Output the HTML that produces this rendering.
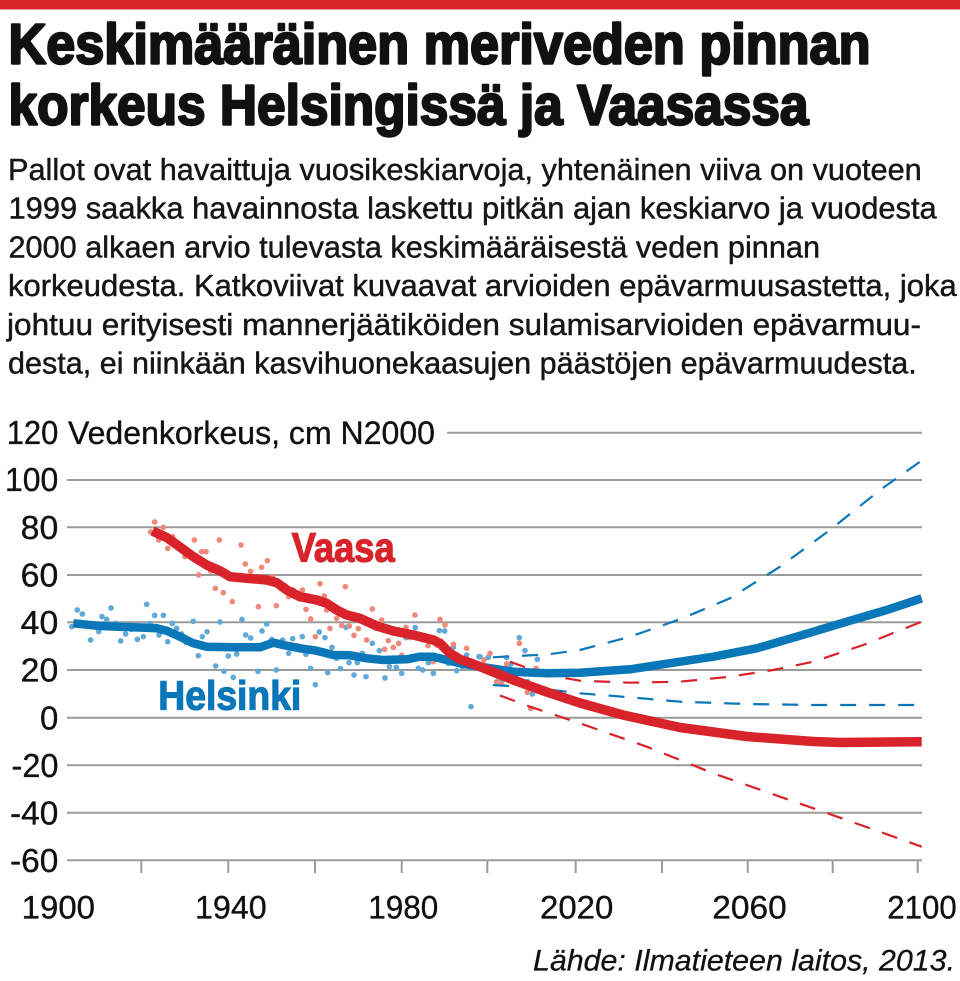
<!DOCTYPE html>
<html><head><meta charset="utf-8">
<style>
html,body{margin:0;padding:0;background:#fff;}
svg{display:block;}
text{font-family:"Liberation Sans",sans-serif;}
</style></head>
<body>
<svg width="960" height="981" viewBox="0 0 960 981" xmlns="http://www.w3.org/2000/svg">
<rect x="0" y="0" width="960" height="981" fill="#fff"/>
<rect x="0" y="0" width="960" height="9.5" fill="#d9232b"/>

<!-- Title -->
<g font-weight="bold" font-size="57" fill="#111" stroke="#111" stroke-width="2.4" stroke-linejoin="round">
<text x="8.5" y="63.3" textLength="862" lengthAdjust="spacingAndGlyphs">Keskimääräinen meriveden pinnan</text>
<text x="8.5" y="124.5" textLength="800" lengthAdjust="spacingAndGlyphs">korkeus Helsingissä ja Vaasassa</text>
</g>

<!-- Description -->
<g font-size="30.5" fill="#161616" stroke="#161616" stroke-width="0.45">
<text x="8" y="180" textLength="913.7" lengthAdjust="spacingAndGlyphs">Pallot ovat havaittuja vuosikeskiarvoja, yhtenäinen viiva on vuoteen</text>
<text x="8.5" y="218.7" textLength="928.2" lengthAdjust="spacingAndGlyphs">1999 saakka havainnosta laskettu pitkän ajan keskiarvo ja vuodesta</text>
<text x="8.5" y="257.4" textLength="811.5" lengthAdjust="spacingAndGlyphs">2000 alkaen arvio tulevasta keskimääräisestä veden pinnan</text>
<text x="8" y="296.1" textLength="948.7" lengthAdjust="spacingAndGlyphs">korkeudesta. Katkoviivat kuvaavat arvioiden epävarmuusastetta, joka</text>
<text x="7" y="334.8" textLength="914" lengthAdjust="spacingAndGlyphs">johtuu erityisesti mannerjäätiköiden sulamisarvioiden epävarmuu-</text>
<text x="8" y="373.5" textLength="908.7" lengthAdjust="spacingAndGlyphs">desta, ei niinkään kasvihuonekaasujen päästöjen epävarmuudesta.</text>
</g>

<!-- Gridlines -->
<g stroke="#9b9b9b" stroke-width="2">
<line x1="447" y1="432.7" x2="922" y2="432.7"/>
<line x1="67" y1="480" x2="922" y2="480"/>
<line x1="67" y1="527.3" x2="922" y2="527.3"/>
<line x1="67" y1="575" x2="922" y2="575"/>
<line x1="67" y1="622.3" x2="922" y2="622.3"/>
<line x1="67" y1="670" x2="922" y2="670"/>
<line x1="67" y1="717.7" x2="922" y2="717.7"/>
<line x1="67" y1="765.3" x2="922" y2="765.3"/>
<line x1="67" y1="812.7" x2="922" y2="812.7"/>
<line x1="67" y1="860.3" x2="922" y2="860.3"/>
<line x1="141.3" y1="860" x2="141.3" y2="873"/>
<line x1="228.3" y1="860" x2="228.3" y2="873"/>
<line x1="315" y1="860" x2="315" y2="873"/>
<line x1="401.7" y1="860" x2="401.7" y2="873"/>
<line x1="487.3" y1="860" x2="487.3" y2="873"/>
<line x1="575.7" y1="860" x2="575.7" y2="873"/>
<line x1="662" y1="860" x2="662" y2="873"/>
<line x1="747.7" y1="860" x2="747.7" y2="873"/>
<line x1="832.7" y1="860" x2="832.7" y2="873"/>
<line x1="917.7" y1="860" x2="917.7" y2="873"/>
</g>

<!-- Y labels -->
<g font-size="33" fill="#111" stroke="#111" stroke-width="0.35">
<text x="6.7" y="444" textLength="51.6" lengthAdjust="spacingAndGlyphs">120</text>
<text x="68" y="444" font-size="32" textLength="367" lengthAdjust="spacingAndGlyphs">Vedenkorkeus, cm N2000</text>
<text x="5" y="491" textLength="53.3" lengthAdjust="spacingAndGlyphs">100</text>
<text x="20.7" y="539" textLength="37.6" lengthAdjust="spacingAndGlyphs">80</text>
<text x="20.7" y="586.5" textLength="37.6" lengthAdjust="spacingAndGlyphs">60</text>
<text x="20.7" y="634" textLength="37.6" lengthAdjust="spacingAndGlyphs">40</text>
<text x="20.7" y="681.5" textLength="37.6" lengthAdjust="spacingAndGlyphs">20</text>
<text x="40" y="729.5" textLength="18.3" lengthAdjust="spacingAndGlyphs">0</text>
<text x="11.5" y="777" textLength="47" lengthAdjust="spacingAndGlyphs">-20</text>
<text x="10" y="824.5" textLength="48.3" lengthAdjust="spacingAndGlyphs">-40</text>
<text x="10" y="872" textLength="48.3" lengthAdjust="spacingAndGlyphs">-60</text>
</g>

<!-- X labels -->
<g font-size="32" fill="#111" stroke="#111" stroke-width="0.35">
<text x="21.7" y="918.3" textLength="73.3" lengthAdjust="spacingAndGlyphs">1900</text>
<text x="195" y="918.3" textLength="71.7" lengthAdjust="spacingAndGlyphs">1940</text>
<text x="368.3" y="918.3" textLength="70" lengthAdjust="spacingAndGlyphs">1980</text>
<text x="540" y="918.3" textLength="73.3" lengthAdjust="spacingAndGlyphs">2020</text>
<text x="712.3" y="918.3" textLength="74.4" lengthAdjust="spacingAndGlyphs">2060</text>
<text x="887.3" y="918.3" textLength="69.4" lengthAdjust="spacingAndGlyphs">2100</text>
</g>

<!-- Source -->
<text x="533" y="970.7" font-size="30" font-style="italic" fill="#111" stroke="#111" stroke-width="0.3" textLength="422" lengthAdjust="spacingAndGlyphs">Lähde: Ilmatieteen laitos, 2013.</text>

<!-- Dots: Helsinki -->
<g transform="translate(0,410) scale(0.33333)" fill="#62a9d8">
<circle cx="215" cy="650" r="8.5"/><circle cx="232" cy="600" r="8.5"/><circle cx="247" cy="612" r="8.5"/><circle cx="255" cy="645" r="8.5"/><circle cx="272" cy="690" r="8.5"/><circle cx="283" cy="650" r="8.5"/><circle cx="296" cy="665" r="8.5"/><circle cx="306" cy="620" r="8.5"/><circle cx="320" cy="628" r="8.5"/><circle cx="333" cy="594" r="8.5"/><circle cx="348" cy="640" r="8.5"/><circle cx="362" cy="693" r="8.5"/><circle cx="377" cy="672" r="8.5"/><circle cx="395" cy="658" r="8.5"/><circle cx="412" cy="688" r="8.5"/><circle cx="430" cy="680" r="8.5"/><circle cx="440" cy="583" r="8.5"/><circle cx="450" cy="640" r="8.5"/><circle cx="464" cy="616" r="8.5"/><circle cx="477" cy="675" r="8.5"/><circle cx="490" cy="616" r="8.5"/><circle cx="503" cy="695" r="8.5"/><circle cx="517" cy="640" r="8.5"/><circle cx="530" cy="655" r="8.5"/><circle cx="545" cy="672" r="8.5"/><circle cx="558" cy="697" r="8.5"/><circle cx="580" cy="634" r="8.5"/><circle cx="595" cy="737" r="8.5"/><circle cx="600" cy="703" r="8.5"/><circle cx="607" cy="680" r="8.5"/><circle cx="621" cy="665" r="8.5"/><circle cx="631" cy="715" r="8.5"/><circle cx="647" cy="768" r="8.5"/><circle cx="660" cy="636" r="8.5"/><circle cx="672" cy="784" r="8.5"/><circle cx="685" cy="738" r="8.5"/><circle cx="700" cy="802" r="8.5"/><circle cx="710" cy="732" r="8.5"/><circle cx="726" cy="628" r="8.5"/><circle cx="737" cy="675" r="8.5"/><circle cx="752" cy="684" r="8.5"/><circle cx="762" cy="715" r="8.5"/><circle cx="774" cy="784" r="8.5"/><circle cx="786" cy="663" r="8.5"/><circle cx="800" cy="642" r="8.5"/><circle cx="815" cy="688" r="8.5"/><circle cx="829" cy="780" r="8.5"/><circle cx="848" cy="690" r="8.5"/><circle cx="866" cy="730" r="8.5"/><circle cx="878" cy="686" r="8.5"/><circle cx="890" cy="707" r="8.5"/><circle cx="907" cy="680" r="8.5"/><circle cx="918" cy="733" r="8.5"/><circle cx="932" cy="775" r="8.5"/><circle cx="946" cy="824" r="8.5"/><circle cx="958" cy="666" r="8.5"/><circle cx="975" cy="683" r="8.5"/><circle cx="983" cy="788" r="8.5"/><circle cx="996" cy="712" r="8.5"/><circle cx="1010" cy="745" r="8.5"/><circle cx="1021" cy="776" r="8.5"/><circle cx="1038" cy="652" r="8.5"/><circle cx="1047" cy="758" r="8.5"/><circle cx="1062" cy="795" r="8.5"/><circle cx="1072" cy="758" r="8.5"/><circle cx="1087" cy="730" r="8.5"/><circle cx="1098" cy="800" r="8.5"/><circle cx="1117" cy="700" r="8.5"/><circle cx="1129" cy="750" r="8.5"/><circle cx="1138" cy="722" r="8.5"/><circle cx="1155" cy="804" r="8.5"/><circle cx="1168" cy="770" r="8.5"/><circle cx="1189" cy="772" r="8.5"/><circle cx="1205" cy="790" r="8.5"/><circle cx="1218" cy="683" r="8.5"/><circle cx="1233" cy="745" r="8.5"/><circle cx="1246" cy="653" r="8.5"/><circle cx="1255" cy="775" r="8.5"/><circle cx="1268" cy="780" r="8.5"/><circle cx="1285" cy="758" r="8.5"/><circle cx="1300" cy="790" r="8.5"/><circle cx="1318" cy="662" r="8.5"/><circle cx="1334" cy="663" r="8.5"/><circle cx="1345" cy="760" r="8.5"/><circle cx="1360" cy="712" r="8.5"/><circle cx="1370" cy="782" r="8.5"/><circle cx="1387" cy="770" r="8.5"/><circle cx="1400" cy="735" r="8.5"/><circle cx="1413" cy="890" r="8.5"/><circle cx="1430" cy="765" r="8.5"/><circle cx="1437" cy="740" r="8.5"/>
</g>
<g transform="translate(480,410) scale(0.33333)" fill="#62a9d8">
<circle cx="0" cy="740" r="8.5"/><circle cx="10" cy="765" r="8.5"/><circle cx="25" cy="742" r="8.5"/><circle cx="55" cy="800" r="8.5"/><circle cx="65" cy="810" r="8.5"/><circle cx="80" cy="743" r="8.5"/><circle cx="92" cy="763" r="8.5"/><circle cx="108" cy="795" r="8.5"/><circle cx="118" cy="683" r="8.5"/><circle cx="135" cy="722" r="8.5"/><circle cx="143" cy="815" r="8.5"/><circle cx="157" cy="852" r="8.5"/><circle cx="172" cy="748" r="8.5"/>
</g>

<!-- Dots: Vaasa -->
<g transform="translate(0,410) scale(0.33333)" fill="#f0897a">
<circle cx="452" cy="366" r="8.5"/><circle cx="464" cy="336" r="8.5"/><circle cx="476" cy="390" r="8.5"/><circle cx="490" cy="352" r="8.5"/><circle cx="503" cy="415" r="8.5"/><circle cx="518" cy="380" r="8.5"/><circle cx="532" cy="405" r="8.5"/><circle cx="555" cy="440" r="8.5"/><circle cx="568" cy="432" r="8.5"/><circle cx="583" cy="390" r="8.5"/><circle cx="596" cy="495" r="8.5"/><circle cx="605" cy="425" r="8.5"/><circle cx="618" cy="425" r="8.5"/><circle cx="632" cy="483" r="8.5"/><circle cx="646" cy="535" r="8.5"/><circle cx="658" cy="390" r="8.5"/><circle cx="670" cy="548" r="8.5"/><circle cx="697" cy="575" r="8.5"/><circle cx="713" cy="505" r="8.5"/><circle cx="723" cy="405" r="8.5"/><circle cx="736" cy="462" r="8.5"/><circle cx="752" cy="484" r="8.5"/><circle cx="763" cy="510" r="8.5"/><circle cx="775" cy="590" r="8.5"/><circle cx="785" cy="472" r="8.5"/><circle cx="802" cy="452" r="8.5"/><circle cx="818" cy="500" r="8.5"/><circle cx="829" cy="587" r="8.5"/><circle cx="842" cy="522" r="8.5"/><circle cx="856" cy="527" r="8.5"/><circle cx="866" cy="560" r="8.5"/><circle cx="880" cy="540" r="8.5"/><circle cx="890" cy="555" r="8.5"/><circle cx="907" cy="540" r="8.5"/><circle cx="918" cy="598" r="8.5"/><circle cx="932" cy="627" r="8.5"/><circle cx="946" cy="680" r="8.5"/><circle cx="960" cy="521" r="8.5"/><circle cx="973" cy="558" r="8.5"/><circle cx="980" cy="600" r="8.5"/><circle cx="990" cy="655" r="8.5"/><circle cx="997" cy="590" r="8.5"/><circle cx="1010" cy="625" r="8.5"/><circle cx="1025" cy="646" r="8.5"/><circle cx="1036" cy="530" r="8.5"/><circle cx="1048" cy="648" r="8.5"/><circle cx="1062" cy="676" r="8.5"/><circle cx="1075" cy="656" r="8.5"/><circle cx="1087" cy="628" r="8.5"/><circle cx="1100" cy="690" r="8.5"/><circle cx="1117" cy="597" r="8.5"/><circle cx="1129" cy="655" r="8.5"/><circle cx="1145" cy="630" r="8.5"/><circle cx="1154" cy="718" r="8.5"/><circle cx="1165" cy="692" r="8.5"/><circle cx="1180" cy="712" r="8.5"/><circle cx="1196" cy="700" r="8.5"/><circle cx="1205" cy="736" r="8.5"/><circle cx="1218" cy="652" r="8.5"/><circle cx="1230" cy="683" r="8.5"/><circle cx="1245" cy="615" r="8.5"/><circle cx="1267" cy="738" r="8.5"/><circle cx="1284" cy="707" r="8.5"/><circle cx="1300" cy="755" r="8.5"/><circle cx="1310" cy="705" r="8.5"/><circle cx="1320" cy="628" r="8.5"/><circle cx="1335" cy="645" r="8.5"/><circle cx="1350" cy="740" r="8.5"/><circle cx="1360" cy="703" r="8.5"/><circle cx="1373" cy="758" r="8.5"/><circle cx="1385" cy="745" r="8.5"/><circle cx="1400" cy="715" r="8.5"/><circle cx="1413" cy="760" r="8.5"/><circle cx="1437" cy="768" r="8.5"/>
</g>
<g transform="translate(480,410) scale(0.33333)" fill="#f0897a">
<circle cx="12" cy="750" r="8.5"/><circle cx="30" cy="730" r="8.5"/><circle cx="50" cy="815" r="8.5"/><circle cx="65" cy="822" r="8.5"/><circle cx="80" cy="762" r="8.5"/><circle cx="118" cy="700" r="8.5"/><circle cx="142" cy="847" r="8.5"/><circle cx="168" cy="775" r="8.5"/><circle cx="152" cy="895" r="8.5"/>
</g>

<!-- Dashed uncertainty lines -->
<g fill="none" stroke-width="2.2" stroke-dasharray="16 13">
<polyline stroke="#0a77b8" points="493,657.3 503.3,656.7 546.7,654.5 580,650 630,636.7 680,619.3 730,598.3 780,566.7 830,530 880,490 921.7,460.5"/>
<polyline stroke="#0a77b8" points="493,685 530,687.3 580,693.3 630,697.3 680,701.7 746.7,704 813.3,705 921.7,705"/>
<polyline stroke="#d9232b" points="510,661.7 546.7,675 580,680.7 630,682.7 680,681.7 730,676.7 773.3,670 813.3,661.7 863.3,645 921.7,621.7"/>
<polyline stroke="#d9232b" points="500,695.5 530,706.7 580,723.3 646.7,746.7 713.3,773.3 780,796.7 846.7,820 921.7,846.7"/>
</g>

<!-- Solid lines -->
<polyline fill="none" stroke="#0a77b8" stroke-width="8.5" stroke-linejoin="round" points="73.3,623.3 100,626 133.3,627.3 156.7,628.3 166.7,630.7 180,636.7 193.3,643.3 206.7,646.7 233.3,647.3 260,647.3 266.7,645 273.3,642.7 283.3,645 300,648.3 316.7,650.7 333.3,655 350,655.3 366.7,658.3 383.3,660 406.7,659.3 420,656.7 433.3,656.7 446.7,660 460,663.3 480,666.7 513.3,671.7 546.7,673.3 580,672.7 630,669.3 680,661.7 713.3,656.7 756.7,648.3 796.7,636.7 846.7,621.7 886.7,610 921.7,598.3"/>
<polyline fill="none" stroke="#d9232b" stroke-width="9.5" stroke-linejoin="round" points="152.5,531 166.7,537.5 180,547 193.3,556.7 206.7,565 220,570.7 230,576.7 246.7,578.3 266.7,580 276.7,582.7 286.7,590 300,596.7 316.7,600 326.7,603.3 336.7,610 346.7,615 360,618.3 376.7,626 393.3,631 413.3,635 433.3,640 440,643.3 450,653.3 460,659.3 473.3,664 480,666.7 513.3,680 546.7,692 580,703 623,715 680,727.5 747,736.5 813,741.5 840,742.5 921.7,741.7"/>

<!-- Series labels -->
<text x="291.7" y="561.7" font-size="41" font-weight="bold" fill="#d9232b" stroke="#d9232b" stroke-width="1.2" textLength="103" lengthAdjust="spacingAndGlyphs">Vaasa</text>
<text x="158.3" y="709.3" font-size="41" font-weight="bold" fill="#0a77b8" stroke="#0a77b8" stroke-width="1.2" textLength="143" lengthAdjust="spacingAndGlyphs">Helsinki</text>
</svg>
</body></html>
